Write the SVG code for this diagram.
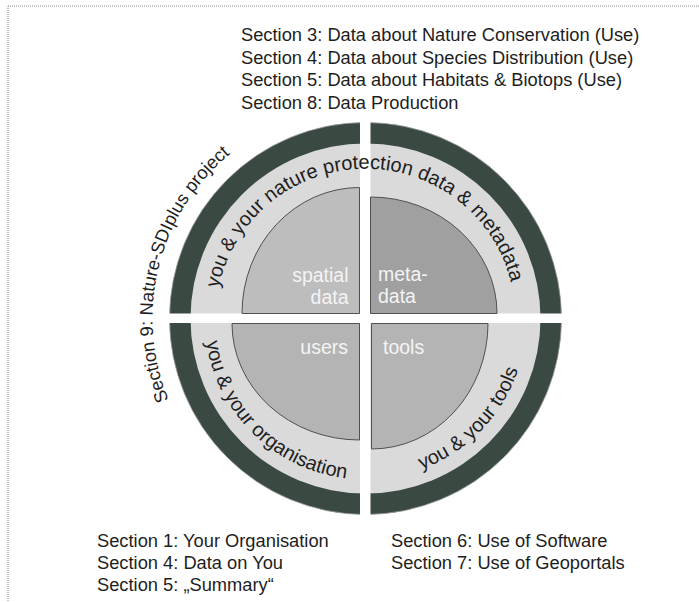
<svg xmlns="http://www.w3.org/2000/svg" xmlns:xlink="http://www.w3.org/1999/xlink" width="699" height="602" viewBox="0 0 699 602">
<style>
.t{font-family:"Liberation Sans",Arial,sans-serif;font-size:18.3px;fill:#1e1e1e}
.r{font-family:"Liberation Sans",Arial,sans-serif;font-size:20px;fill:#1e1e1e}
.q{font-family:"Liberation Sans",Arial,sans-serif;font-size:19.5px;fill:#f4f4f4}
.quad{stroke:#505050;stroke-width:1}
</style>
<defs>
<path id="arcTop" d="M218.6,288.3 A150,150 0 0 1 514.9,305.4"/>
<path id="arcBL" d="M206.2,341.7 A161,161 0 0 0 365.5,479.5"/>
<path id="arcBR" d="M421.6,469.4 A161,161 0 0 0 525.9,332.5"/>
<path id="arcS9" d="M168.7,400.0 A213,213 0 0 1 292.7,118.3"/>
</defs>
<rect width="699" height="602" fill="#ffffff"/>
<g id="frame" fill="none" stroke="#8a8a8a" stroke-width="1" stroke-dasharray="1 1">
<line x1="8" y1="6" x2="699" y2="6"/>
<line x1="8" y1="6" x2="8" y2="602"/>
</g>
<g id="top-sections">
<text class="t" x="241" y="41">Section 3: Data about Nature Conservation (Use)</text>
<text class="t" x="241" y="63.5">Section 4: Data about Species Distribution (Use)</text>
<text class="t" x="241" y="86">Section 5: Data about Habitats &amp; Biotops (Use)</text>
<text class="t" x="241" y="108.5">Section 8: Data Production</text>
</g>
<g id="outer-ring">
<circle cx="365.5" cy="318.5" r="196" fill="#3a4a42" stroke="#9a9a9a" stroke-width="0.8"/>
<circle cx="365.5" cy="318.5" r="175" fill="#dadada"/>
<rect x="360" y="110" width="10.5" height="420" fill="#ffffff"/>
<rect x="160" y="313.5" width="420" height="9.5" fill="#ffffff"/>
</g>
<g id="section9">
<text class="t" font-size="18.5"><textPath xlink:href="#arcS9" href="#arcS9">Section 9: Nature-SDIplus project</textPath></text>
</g>
<g id="ring-data">
<text class="r"><textPath xlink:href="#arcTop" href="#arcTop">you &amp; your nature protection data &amp; metadata</textPath></text>
</g>
<g id="ring-organisation">
<text class="r"><textPath xlink:href="#arcBL" href="#arcBL">you &amp; your organisation</textPath></text>
</g>
<g id="ring-tools">
<text class="r"><textPath xlink:href="#arcBR" href="#arcBR">you &amp; your tools</textPath></text>
</g>
<g id="spatial-data">
<path class="quad" d="M359.5,313.5 V187.5 A117.5,126 0 0 0 242,313.5 Z" fill="#bdbdbd"/>
<text class="q" text-anchor="end" x="348.5" y="282">spatial</text>
<text class="q" text-anchor="end" x="348.5" y="304">data</text>
</g>
<g id="metadata">
<path class="quad" d="M370.5,313.5 V197 A126.5,116.5 0 0 1 497,313.5 Z" fill="#a0a0a0"/>
<text class="q" x="378" y="280.5">meta-</text>
<text class="q" x="378" y="303">data</text>
</g>
<g id="users">
<path class="quad" d="M359.5,323.5 H232 A127.5,116.5 0 0 0 359.5,440 Z" fill="#b4b4b4"/>
<text class="q" text-anchor="end" x="348" y="354">users</text>
</g>
<g id="tools">
<path class="quad" d="M371.5,323.5 H488 A116.5,125.5 0 0 1 371.5,449 Z" fill="#b4b4b4"/>
<text class="q" x="383" y="354">tools</text>
</g>
<g id="bottom-sections">
<text class="t" x="97" y="547">Section 1: Your Organisation</text>
<text class="t" x="97" y="569">Section 4: Data on You</text>
<text class="t" x="97" y="591">Section 5: &#8222;Summary&#8220;</text>
<text class="t" x="391" y="547">Section 6: Use of Software</text>
<text class="t" x="391" y="569">Section 7: Use of Geoportals</text>
</g>
</svg>
